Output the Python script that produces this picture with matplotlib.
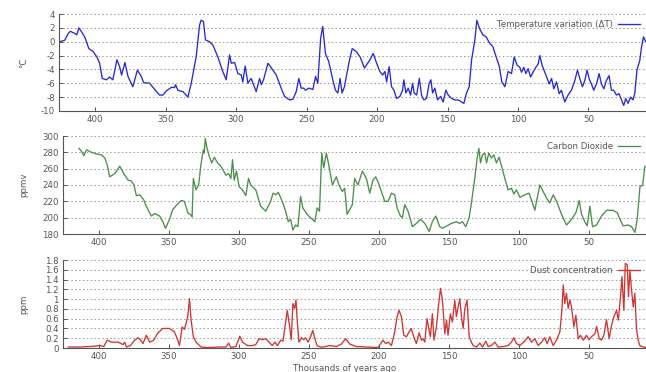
import matplotlib
matplotlib.use("Agg")
import matplotlib.pyplot as plt

# ---------------- data (thousands of years ago) ----------------
temp_age = [425.2, 421.6, 419.0, 417.6, 414.5, 413.0, 411.5, 409.8, 407.4, 404.4, 401.5, 398.7,
            396.8, 394.9, 392.0, 389.7, 387.4, 384.5, 382.6, 381.2, 378.8, 376.7, 373.2, 370.0,
            367.2, 365.6, 361.3, 358.9, 354.3, 351.9, 349.5, 346.0, 343.6, 342.9, 341.3, 337.7,
            334.2, 331.8, 328.3, 325.9, 324.8, 323.1, 321.7, 318.8, 316.4, 312.9, 309.8, 307.0,
            304.6, 303.4, 301.0, 298.7, 296.3, 295.2, 293.5, 291.6, 289.3, 285.7, 283.3, 282.1,
            280.5, 277.4, 275.0, 271.5, 268.0, 265.6, 262.0, 259.7, 257.3, 255.5, 253.8, 252.1,
            250.7, 248.4, 245.5, 243.6, 242.0, 240.0, 238.5, 236.6, 234.2, 231.4, 229.5, 227.8,
            226.2, 224.8, 223.1, 221.4, 219.5, 217.6, 214.8, 212.0, 208.9,
            205.0, 202.7, 200.3, 198.0, 196.0, 194.4, 193.2, 191.4, 189.7, 188.0, 186.1, 183.8,
            181.9, 181.0, 179.5, 177.9, 176.2, 174.8, 173.6, 171.9, 170.0, 168.4, 166.8, 164.9,
            163.0, 161.8, 160.6, 159.0, 157.1, 154.9, 153.1, 151.2, 149.5, 147.1, 144.8, 142.4,
            140.0, 138.4, 136.5, 134.6, 132.9, 130.6,
            129.2, 127.3, 125.0, 122.6, 120.2, 117.9, 115.5, 113.2,
            111.5, 109.3, 107.0, 104.6, 102.7, 100.6, 98.7, 97.5, 95.9, 94.4, 92.8, 91.1,
            89.3, 87.4, 85.7, 84.5, 82.9, 81.0, 79.3, 77.9, 76.2, 74.6, 72.7, 70.8,
            69.2, 66.8, 64.5, 62.1, 59.7, 57.8, 56.2, 54.3, 52.6, 51.0, 49.6, 47.9,
            46.3, 44.3, 42.5, 40.8, 39.1, 37.3, 35.4, 33.7, 32.1, 30.2, 28.3, 26.6,
            25.0, 23.6, 21.9, 20.2, 18.4, 17.2, 15.6, 13.6, 12.4, 11.0, 9.4]
temp_val = [0.0, 0.2, 1.2, 1.5, 1.2, 1.0, 2.0, 1.5, 0.7, -1.0, -1.4, -2.2,
            -3.1, -5.3, -5.5, -5.1, -5.5, -2.6, -3.6, -4.8, -3.0, -5.0, -6.5, -4.1,
            -5.0, -5.9, -6.0, -6.6, -7.7, -7.7, -7.1, -6.6, -6.6, -6.2, -7.0, -7.2,
            -8.0, -6.0, -2.2, 2.4, 3.1, 2.9, 0.25, 0.0, -0.5, -2.2, -4.1, -5.5,
            -1.9, -3.1, -3.0, -4.6, -4.8, -5.8, -3.5, -6.0, -5.3, -7.2, -5.3, -6.2,
            -5.5, -3.1, -3.8, -4.8, -6.7, -7.9, -8.4, -8.3, -7.2, -5.3, -6.7, -6.7,
            -7.0, -6.7, -6.9, -5.0, -6.0, 0.5, 2.2, -1.7, -2.9, -5.5, -7.0, -7.4,
            -5.3, -7.4, -6.5, -4.6, -2.6, -1.0, -1.4, -2.2, -3.8,
            -2.6, -1.7, -3.1, -4.3, -4.8, -4.3, -5.8, -3.6, -6.5, -7.0, -8.2, -7.9,
            -7.0, -5.5, -7.4, -6.7, -7.7, -6.0, -7.4, -7.7, -5.3, -7.7, -8.4, -8.2,
            -6.0, -5.5, -7.4, -6.7, -8.4, -7.9, -8.7, -7.0, -7.7, -8.2, -8.4, -8.4,
            -8.7, -8.9, -7.4, -6.5, -2.6, 0.25,
            3.1, 1.9, 1.0, 0.7, -0.2, -0.7, -2.2, -3.6,
            -5.8, -6.5, -4.3, -4.6, -2.2, -3.4, -3.7, -4.4, -3.7, -4.6, -3.9, -5.1,
            -4.4, -3.7, -3.2, -2.0, -3.4, -4.4, -5.3, -6.1, -5.3, -6.8, -5.8, -7.5,
            -7.0, -8.7, -7.7, -7.0, -5.6, -4.1, -5.3, -6.5, -5.6, -4.1, -5.3, -6.1,
            -7.0, -6.1, -4.6, -6.1, -6.8, -5.6, -4.9, -7.0, -7.0, -7.7, -7.5, -8.4,
            -9.2, -8.2, -8.9, -8.0, -8.4, -7.5, -4.1, -2.7, -0.8, 0.7, 0.0]

co2_age = [414.2, 412.3, 410.7, 408.8, 405.2, 401.7, 398.1, 395.7, 394.1, 392.2, 388.6, 385.1,
           382.2, 379.1, 376.8, 374.9, 373.2, 370.9, 368.0, 366.1, 362.6, 360.2, 356.6, 354.3,
           352.4, 349.5, 347.2, 343.6, 341.2, 338.9, 336.5, 334.1, 333.4, 332.5, 330.6, 328.7,
           327.1, 325.4, 324.7, 324.0, 322.7, 321.1, 319.4, 317.5, 315.2, 312.8, 309.2, 307.3,
           305.7, 304.5, 303.3, 301.7, 299.8, 297.4, 295.0, 293.1, 291.5, 287.9, 284.4, 280.8,
           277.3, 275.6, 273.7, 271.8, 269.0, 266.6, 264.7, 263.0, 261.4, 259.5, 257.8, 255.9,
           254.3, 251.2, 247.6, 245.7, 244.1, 242.4, 240.8, 239.4, 237.5, 235.6, 233.2, 231.6,
           230.4, 228.5, 226.1, 224.4, 222.7, 220.8, 218.9, 217.3, 214.9, 211.8, 208.9, 206.5,
           204.2, 202.3, 200.6, 198.2, 195.8, 193.4, 191.0, 188.7, 187.0, 184.6, 183.2, 181.5,
           179.2, 176.0, 173.2, 170.3, 167.2, 164.1, 161.8, 159.4, 156.5, 154.6, 151.3, 148.2,
           144.6, 142.2, 140.3, 137.9, 135.5, 133.9, 131.5, 129.8, 128.6, 127.4, 126.0, 124.3,
           123.1, 121.5, 119.6, 117.9, 116.0, 114.1, 112.4, 110.0, 107.7, 105.3, 103.6, 101.7,
           99.3, 95.7, 92.7, 90.3, 88.6, 86.9, 85.0, 82.6, 80.3, 77.9, 75.5, 73.1, 69.5, 66.0,
           62.4, 59.3, 56.9, 55.2, 52.9, 51.2, 49.3, 47.4, 44.5, 41.0, 37.4, 32.6, 29.7, 27.8,
           25.5, 21.9, 19.5, 17.1, 15.5, 13.5, 11.6, 10.0]
co2_val = [285, 281, 276, 283, 280, 278, 277, 273, 265, 250, 254, 263,
           254, 246, 245, 240, 227, 228, 222, 214, 202, 205, 202, 195,
           187, 198, 210, 217, 221, 220, 206, 203, 201, 248, 234, 240,
           265, 283, 279, 297, 285, 275, 267, 274, 267, 263, 252, 254,
           248, 271, 246, 257, 238, 234, 227, 248, 240, 234, 214, 208,
           220, 230, 228, 231, 220, 208, 195, 198, 185, 191, 189, 226,
           212, 204, 198, 195, 212, 208, 279, 261, 279, 263, 240, 246,
           250, 240, 232, 236, 204, 210, 216, 248, 240, 257, 248, 230,
           246, 250, 244, 232, 220, 220, 230, 228, 212, 202, 200, 216,
           208, 189, 193, 198, 193, 183, 195, 202, 189, 187, 190, 193,
           195, 193, 195, 189, 200, 218, 248, 273, 285, 267, 277, 279,
           267, 279, 273, 277, 267, 274, 263, 248, 234, 236, 229, 234,
           225, 228, 230, 218, 209, 224, 240, 232, 224, 218, 228, 220, 204, 191,
           198, 206, 221, 204, 195, 190, 214, 189, 191, 202, 209, 209, 206, 198,
           190, 191, 189, 182, 198, 238, 240, 263]

dust_age = [421.8, 413.5, 406.4, 399.3, 396.4, 394.1, 391.0, 386.3, 382.7, 381.5, 380.3, 377.5,
            374.4, 372.0, 370.4, 368.5, 366.1, 363.7, 360.9, 357.8, 354.3, 349.5, 346.0, 343.6,
            342.4, 340.5, 338.9, 336.5, 335.3, 334.1, 332.5, 330.6, 327.0, 322.3, 314.0, 309.2,
            307.3, 305.7, 302.1, 299.3, 297.4, 293.8, 290.3, 287.9, 285.5, 283.2, 280.8, 278.4,
            276.1, 274.2, 272.5, 270.1, 268.5, 267.1, 265.4, 263.7, 262.6, 261.4, 260.2, 259.2,
            258.3, 257.1, 255.2, 253.6, 252.4, 250.5, 248.8, 247.2, 245.7, 244.1, 241.7, 239.9,
            235.1, 230.4, 226.8, 223.7, 220.8, 216.1, 208.9, 200.6, 197.0, 195.1, 193.4, 191.0,
            188.7, 187.0, 185.6, 183.9, 182.2, 180.3, 178.4, 176.8, 175.1, 173.2, 171.3, 169.6,
            168.4, 167.2, 165.6, 164.1, 163.2, 161.8, 160.6, 158.9, 157.5, 156.0, 154.6, 152.9,
            151.7, 150.6, 148.9, 147.5, 145.8, 144.6, 143.4, 142.2, 141.0, 139.8, 138.6, 137.0,
            135.5, 133.9, 132.7, 130.3, 127.9, 126.0, 123.6, 122.0, 119.6, 117.2, 114.8, 111.2,
            107.7, 105.3, 103.6, 101.7, 99.3, 96.5, 93.4, 91.0, 88.6, 86.2, 83.8, 81.5, 79.8,
            77.9, 75.5, 73.1, 70.7, 69.3, 68.3, 67.2, 66.0, 64.8, 63.6, 62.4, 60.7, 59.3, 57.6,
            56.0, 54.0, 51.7, 50.0, 48.1, 45.7, 44.5, 42.6, 41.0, 39.3, 37.4, 35.5, 33.8, 32.1,
            30.2, 29.0, 27.4, 26.4, 25.0, 24.0, 22.6, 21.7, 20.7, 19.5, 18.3, 17.2, 16.0, 14.8,
            13.6, 11.2, 9.0]
dust_val = [0.02, 0.02, 0.03, 0.05, 0.03, 0.16, 0.12, 0.12, 0.07, 0.12, 0.02, 0.05,
            0.16, 0.21, 0.17, 0.09, 0.26, 0.12, 0.16, 0.31, 0.40, 0.40, 0.33, 0.16,
            0.05, 0.43, 0.38, 0.64, 1.01, 0.57, 0.23, 0.12, 0.02, 0.01, 0.02, 0.02,
            0.10, 0.01, 0.03, 0.24, 0.12, 0.05, 0.05, 0.07, 0.19, 0.17, 0.19, 0.12,
            0.05, 0.12, 0.05, 0.16, 0.14, 0.43, 0.77, 0.43, 0.17, 0.91, 0.81, 0.98,
            0.57, 0.12, 0.21, 0.17, 0.21, 0.12, 0.23, 0.36, 0.19, 0.05, 0.02, 0.02,
            0.05, 0.03, 0.08, 0.19, 0.08, 0.03, 0.02, 0.01, 0.16, 0.09, 0.12, 0.05,
            0.33, 0.64, 0.77, 0.64, 0.26, 0.23, 0.33, 0.40, 0.23, 0.09, 0.31, 0.16,
            0.19, 0.12, 0.60, 0.36, 0.23, 0.70, 0.16, 0.43, 0.84, 1.22, 0.98, 0.29,
            0.57, 0.26, 0.70, 0.53, 0.98, 0.64, 0.84, 1.01, 0.64, 0.40, 0.81, 0.98,
            0.23, 0.12, 0.05, 0.02, 0.10, 0.02, 0.14, 0.03, 0.05, 0.12, 0.02, 0.03,
            0.05, 0.12, 0.21, 0.09, 0.05, 0.12, 0.23, 0.12, 0.19, 0.05, 0.12, 0.21, 0.09,
            0.23, 0.05, 0.16, 0.33, 0.77, 1.29, 0.91, 1.12, 0.81, 0.98, 0.84, 0.43, 0.67, 0.19,
            0.26, 0.16, 0.26, 0.17, 0.23, 0.29, 0.44, 0.19, 0.16, 0.26, 0.58, 0.19, 0.47, 0.64,
            0.77, 0.57, 1.05, 1.46, 0.77, 1.73, 1.70, 1.05, 1.59, 1.18, 0.84, 1.12, 0.40, 0.16,
            0.05, 0.02, 0.01]

x_ticks = [400, 350, 300, 250, 200, 150, 100, 50]
temp_ticks = [4, 2, 0, -2, -4, -6, -8, -10]
co2_ticks = [300, 280, 260, 240, 220, 200, 180]
dust_ticks = [0, 0.2, 0.4, 0.6, 0.8, 1.0, 1.2, 1.4, 1.6, 1.8]
dust_tick_labels = ['0', '0.2', '0.4', '0.6', '0.8', '1', '1.2', '1.4', '1.6', '1.8']

# ---------------- figure ----------------
plt.rcParams['font.family'] = ['DejaVu Sans']
plt.rcParams['axes.unicode_minus'] = False
W, H = 646, 372
fig = plt.figure(figsize=(W / 100, H / 100), dpi=100)

def box(left, top, bottom):
    return [left / W, (H - bottom) / H, (W - left) / W, (bottom - top) / H]

ax1 = fig.add_axes(box(59, 14, 111))
ax2 = fig.add_axes(box(63, 136, 234))
ax3 = fig.add_axes(box(63, 260, 348))

txt = '#555555'
fs = 6.2

ax1.plot(temp_age, temp_val, color='#2828d8', lw=0.95, label='Temperature variation (ΔT)')
ax2.plot(co2_age, co2_val, color='#4a8f4a', lw=0.95, label='Carbon Dioxide')
ax3.plot(dust_age, dust_val, color='#cf3535', lw=0.95, label='Dust concentration')

ax1.set_ylim(-10, 4)
ax1.set_yticks(temp_ticks)
ax2.set_ylim(180, 300)
ax2.set_yticks(co2_ticks)
ax3.set_ylim(0, 1.8)
ax3.set_yticks(dust_ticks)
ax3.set_yticklabels(dust_tick_labels)

for ax, lab in [(ax1, '°C'), (ax2, 'ppmv'), (ax3, 'ppm')]:
    ax.set_xlim(425.6, 9.2)
    ax.set_xticks(x_ticks)
    ax.set_xticklabels([str(v) for v in x_ticks])
    for s in ['top', 'right']:
        ax.spines[s].set_visible(False)
    for s in ['left', 'bottom']:
        ax.spines[s].set_color('#555555')
        ax.spines[s].set_linewidth(0.8)
    ax.tick_params(direction='in', length=3, width=0.7, colors='#555555',
                   labelsize=fs, labelcolor=txt, pad=3)
    ax.yaxis.grid(True, linestyle=(0, (1.5, 2.5)), color='#999999', linewidth=0.7)
    ax.set_axisbelow(True)
    ax.set_facecolor('none')
    ax.legend(loc='upper right', frameon=False, markerfirst=False, fontsize=fs,
              handlelength=2.6, borderaxespad=0.25, labelcolor=txt, handletextpad=0.6)
    ax.set_ylabel(lab, fontsize=fs, color=txt)

for ax in (ax1, ax2, ax3):
    ax.yaxis.set_label_coords(-(ax.get_position().x0 * W - 28) / (ax.get_position().width * W), 0.5)

fig.text(345 / W, (H - 364) / H, 'Thousands of years ago', ha='center', va='top',
         fontsize=fs, color=txt)

fig.savefig('out.png', dpi=100)
